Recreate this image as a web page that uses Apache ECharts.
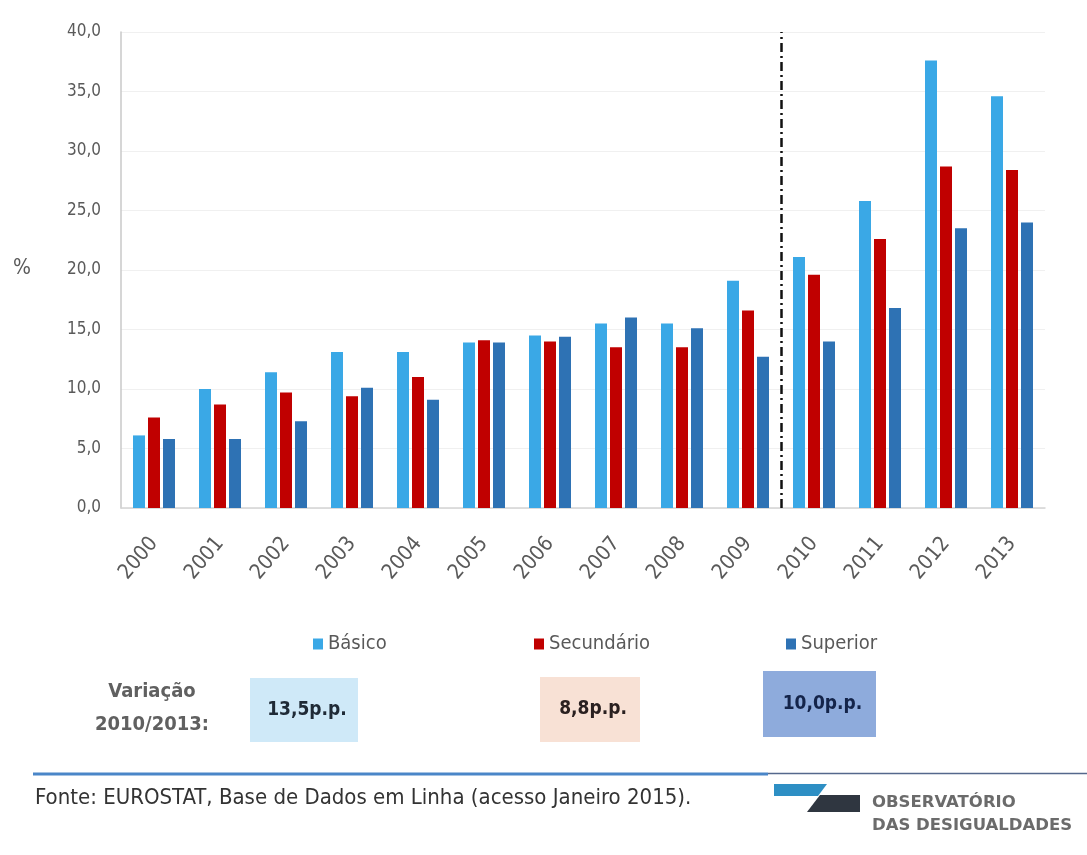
<!DOCTYPE html>
<html>
<head>
<meta charset="utf-8">
<script src="https://cdn.jsdelivr.net/npm/echarts@6/dist/echarts.min.js"></script>
<style>html,body{margin:0;padding:0;background:#fff;}#c{width:1087px;height:855px;}</style>
</head>
<body>
<div id="c"></div>
<script>
var categories = ['2000','2001','2002','2003','2004','2005','2006','2007','2008','2009','2010','2011','2012','2013'];
var seriesNames = ['Básico', 'Secundário', 'Superior'];
var basico =     [6.1, 10.0, 11.4, 13.1, 13.1, 13.9, 14.5, 15.5, 15.5, 19.1, 21.1, 25.8, 37.6, 34.6];
var secundario = [7.6,  8.7,  9.7,  9.4, 11.0, 14.1, 14.0, 13.5, 13.5, 16.6, 19.6, 22.6, 28.7, 28.4];
var superior =   [5.8,  5.8,  7.3, 10.1,  9.1, 13.9, 14.4, 16.0, 15.1, 12.7, 14.0, 16.8, 23.5, 24.0];
var variations = ['13,5p.p.', '8,8p.p.', '10,0p.p.'];
var breakIndex = 10;

var colors = ['#3aa8e6', '#c00000', '#2e72b4'];
var boxColors = ['#cfe9f8', '#f8e1d5', '#8eabdc'];
var boxTextColors = ['#1f2a36', '#2a2020', '#14244a'];
var narrow = "'Liberation Sans Narrow','DejaVu Sans Condensed','Liberation Sans',sans-serif";

var chart = echarts.init(document.getElementById('c'));

var boxes = [[250, 678, 108, 64], [540, 677, 100, 65], [763, 671, 113, 66]];
var graphics = [
  {type:'text', left: 13, top: 258, style:{text:'%', font:'21px ' + narrow, fill:'#595959'}},
  {type:'text', x: 152, y: 692, style:{text:'Variação', font:'bold 20px ' + narrow, fill:'#606060', align:'center', verticalAlign:'middle'}},
  {type:'text', x: 152, y: 725, style:{text:'2010/2013:', font:'bold 20px ' + narrow, fill:'#606060', align:'center', verticalAlign:'middle'}},
  {type:'line', shape:{x1:33, y1:774, x2:768, y2:774}, style:{stroke:'#4a86c8', lineWidth:3}},
  {type:'line', shape:{x1:768, y1:773.5, x2:1087, y2:773.5}, style:{stroke:'#55688c', lineWidth:1.5}},
  {type:'text', left: 35, top: 787, style:{text:'Fonte: EUROSTAT, Base de Dados em Linha (acesso Janeiro 2015).', font:'22px ' + narrow, fill:'#333333'}},
  {type:'polygon', shape:{points:[[774,784],[827,784],[818,796],[774,796]]}, style:{fill:'#2e8fc4'}},
  {type:'polygon', shape:{points:[[820,795],[860,795],[860,812],[807,812]]}, style:{fill:'#2f3640'}},
  {type:'text', x: 872, y: 803, style:{text:'OBSERVATÓRIO', font:'bold 16.5px "DejaVu Sans",sans-serif', fill:'#6b6b6b', verticalAlign:'middle'}},
  {type:'text', x: 872, y: 826, style:{text:'DAS DESIGUALDADES', font:'bold 16.5px "DejaVu Sans",sans-serif', fill:'#6b6b6b', verticalAlign:'middle'}}
];
boxes.forEach(function (b, i) {
  graphics.push({type:'rect', shape:{x:b[0], y:b[1], width:b[2], height:b[3]}, style:{fill:boxColors[i]}});
  graphics.push({type:'text', x: b[0] + b[2] / 2 + 3, y: b[1] + b[3] / 2, style:{text:variations[i], font:'bold 19px ' + narrow, fill:boxTextColors[i], align:'center', verticalAlign:'middle'}});
});

var legendLefts = [308, 529, 781];
var legends = seriesNames.map(function (n, i) {
  return {
    data:[n], left: legendLefts[i], top: 629, icon:'rect', itemWidth:10, itemHeight:11, itemGap: 5,
    textStyle:{fontSize:20, color:'#595959', fontFamily: narrow}
  };
});

var dataArr = [basico, secundario, superior];
var series = seriesNames.map(function (n, i) {
  return {
    name: n, type:'bar', data: dataArr[i], barWidth: 12, barGap: '25%',
    itemStyle:{color: colors[i]}
  };
});
series.push({
  type:'line', xAxisIndex:1, data:[], silent:true,
  markLine:{
    symbol:['none','none'], silent:true, label:{show:false},
    lineStyle:{color:'#111', width:2.5, type:[9,4,2,4]},
    data:[{xAxis: breakIndex}]
  }
});

chart.setOption({
  animation:false,
  backgroundColor:'#ffffff',
  grid:{left:121, right:42, top:32, bottom:347, containLabel:false},
  legend: legends,
  xAxis:[{
    type:'category', data: categories,
    axisLine:{lineStyle:{color:'#d4d4d4', width:1.5}},
    axisTick:{show:false},
    axisLabel:{rotate:50, color:'#5a5a5a', fontSize:21, fontFamily: narrow, margin:32}
  },{
    type:'value', min:0, max: categories.length, show:false
  }],
  yAxis:{
    type:'value', min:0, max:40, interval:5,
    axisLine:{show:true, lineStyle:{color:'#c8c8c8', width:1.5}},
    axisTick:{show:false},
    splitLine:{lineStyle:{color:'#f0f0f0', width:1}},
    axisLabel:{color:'#5a5a5a', fontSize:17, fontFamily: narrow, margin:20,
      formatter:function(v){ return v.toFixed(1).replace('.', ','); }}
  },
  graphic: graphics,
  series: series
});
</script>
</body>
</html>
